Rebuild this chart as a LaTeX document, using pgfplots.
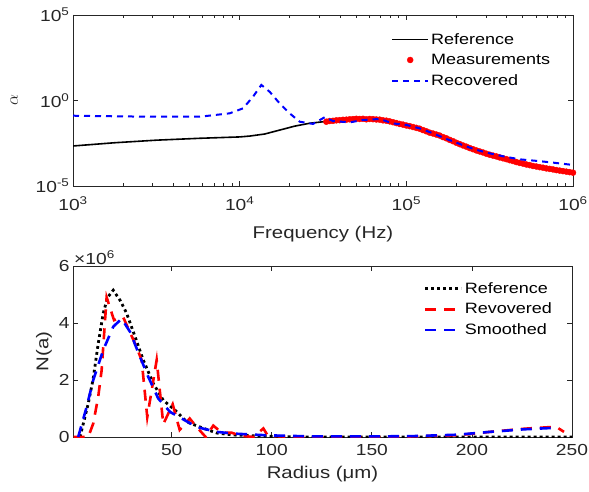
\documentclass[border=0pt]{standalone}
\usepackage{fontspec}
\setmainfont[FakeStretch=1.2]{Liberation Sans}
\usepackage{pgfplots}
\usepackage{pgfplotstable}
\pgfplotsset{compat=1.18}
\definecolor{axgray}{rgb}{0.15,0.15,0.15}

% top panel, columns: log10(f), log10(alpha)
\pgfplotstableread{
lf la
3.00 -2.66
3.25 -2.47
3.50 -2.32
3.76 -2.21
4.00 -2.13
4.06 -2.08
4.15 -1.96
4.24 -1.73
4.33 -1.50
4.42 -1.33
4.54 -1.20
4.72 -1.08
4.84 -1.12
4.96 -1.37
5.08 -1.65
5.20 -2.05
5.32 -2.55
5.50 -3.17
5.68 -3.65
5.86 -4.00
6.00 -4.22
}\refA

\pgfplotstableread{
lf la
4.52 -1.24
4.54 -1.20
4.56 -1.19
4.58 -1.16
4.60 -1.15
4.62 -1.13
4.64 -1.12
4.66 -1.10
4.68 -1.09
4.70 -1.07
4.72 -1.08
4.74 -1.07
4.76 -1.10
4.78 -1.08
4.80 -1.09
4.82 -1.11
4.84 -1.12
4.86 -1.16
4.88 -1.18
4.90 -1.22
4.92 -1.27
4.94 -1.32
4.96 -1.37
4.98 -1.41
5.00 -1.46
5.02 -1.50
5.04 -1.55
5.06 -1.60
5.08 -1.65
5.10 -1.73
5.12 -1.80
5.14 -1.88
5.16 -1.93
5.18 -1.99
5.20 -2.05
5.22 -2.14
5.24 -2.21
5.26 -2.30
5.28 -2.38
5.30 -2.47
5.32 -2.55
5.34 -2.63
5.36 -2.70
5.38 -2.78
5.40 -2.85
5.42 -2.92
5.44 -2.98
5.46 -3.04
5.48 -3.11
5.50 -3.17
5.52 -3.22
5.54 -3.27
5.56 -3.33
5.58 -3.38
5.60 -3.43
5.62 -3.49
5.64 -3.54
5.66 -3.60
5.68 -3.65
5.70 -3.69
5.72 -3.74
5.74 -3.78
5.76 -3.83
5.78 -3.86
5.80 -3.90
5.82 -3.93
5.84 -3.97
5.86 -4.00
5.88 -4.03
5.90 -4.07
5.92 -4.10
5.94 -4.13
5.96 -4.16
5.98 -4.19
6.00 -4.22
}\meas

\pgfplotstableread{
lf la
3.00 -0.89
3.30 -0.93
3.50 -0.95
3.76 -0.95
3.94 -0.75
4.02 -0.46
4.08 0.22
4.13 0.91
4.18 0.51
4.24 -0.17
4.30 -0.75
4.36 -1.24
4.44 -1.37
4.51 -0.98
4.56 -1.20
4.66 -1.28
4.74 -1.14
4.84 -1.08
4.92 -1.34
5.00 -1.43
5.08 -1.63
5.16 -1.92
5.23 -2.21
5.32 -2.54
5.41 -2.86
5.50 -3.09
5.59 -3.28
5.68 -3.44
5.77 -3.52
5.86 -3.61
6.00 -3.77
}\recA

% bottom panel, N(a) in units of 1e6
\pgfplotstableread{
r n
4.2 0
8.3 1.17
10.8 2.05
13.3 3.28
15.8 4.34
18.0 4.90
20.8 5.15
24.2 4.80
27.5 4.34
31.7 3.52
35.8 2.70
40.8 1.88
45.8 1.29
51.7 0.94
57.5 0.53
64.2 0.35
72.5 0.14
80.8 0.07
100 0.02
120 0
250 0
}\refB

\pgfplotstableread{
r n
1 0
8.3 0
10.8 0.47
13.3 1.41
15 2.34
17.5 4.90
21.2 4.10
25.8 4.20
31.7 3.28
35 2.70
37.8 0.70
42.5 2.70
45.8 0.45
50.5 1.15
54 0.25
59 0.65
62.5 0.35
67 0
70.8 0.40
75 0.15
80 0.15
84 0.05
90.8 0
95.8 0.30
98 0.05
110 0
150 0
170 0.02
192.5 0.06
209 0.18
226 0.29
242 0.36
246 0.18
}\recB

\pgfplotstableread{
r n
3.3 0
7.5 1.05
10.8 2.00
15.8 3.05
20.8 3.87
25 4.15
29.2 3.69
34.2 2.81
38.3 2.11
43.3 1.35
49.2 0.88
55 0.65
62.5 0.35
72.5 0.18
80.8 0.12
97.5 0.06
120 0.02
150 0.02
170 0.03
192.5 0.08
209 0.18
226 0.27
241 0.32
}\smB

\pgfplotsset{
  mystyle/.style={
    scale only axis,
    clip mode=individual,
    axis line style={axgray, line width=0.8pt},
    tick style={axgray, line width=0.7pt},
    tick align=inside,
    major tick length=5pt,
    minor tick length=3pt,
    /pgf/number format/assume math mode=true,
    ticklabel style={font=\fontsize{16}{18}\selectfont, text=axgray},
    label style={font=\fontsize{17}{20}\selectfont, text=axgray},
    legend cell align=left,
    legend image code/.code={\draw[mark repeat=2,mark phase=2,##1] plot coordinates {(0pt,0pt) (18pt,0pt) (36pt,0pt)};},
  }
}

\begin{document}
\begin{tikzpicture}[x=1pt,y=1pt]
\useasboundingbox (0,0) rectangle (589,491);
\begin{axis}[mystyle,
  at={(73pt,305pt)}, anchor=south west,
  width=500pt, height=171pt,
  xmode=log, ymode=log,
  xmin=1e3, xmax=1e6, ymin=1e-5, ymax=1e5,
  xtick={1e3,1e4,1e5,1e6},
  xticklabels={10\textsuperscript{3},10\textsuperscript{4},10\textsuperscript{5},10\textsuperscript{6}},
  ytick={1e-5,1,1e5},
  yticklabels={10\textsuperscript{-5},10\textsuperscript{0},10\textsuperscript{5}},
  yminorticks=false,
  xticklabel style={yshift=-7pt},
  xlabel={Frequency (Hz)},
  ylabel={$\alpha$},
  xlabel style={yshift=-9pt},
  ylabel style={yshift=11pt},
  legend style={draw=none, fill=none, at={(0.63,0.918)}, anchor=north west,
    font=\fontsize{15}{18}\selectfont, row sep=4.5pt},
]
\addplot[black, line width=1.6pt] table[x expr=10^\thisrow{lf}, y expr=10^\thisrow{la}] {\refA};
\addlegendentry{Reference}
\addplot[only marks, red, mark=*, mark size=3pt] table[x expr=10^\thisrow{lf}, y expr=10^\thisrow{la}] {\meas};
\addlegendentry{Measurements}
\addplot[blue, line width=2pt, dash pattern=on 6pt off 5pt] table[x expr=10^\thisrow{lf}, y expr=10^\thisrow{la}] {\recA};
\addlegendentry{Recovered}
\end{axis}

\begin{axis}[mystyle,
  at={(73pt,54pt)}, anchor=south west,
  width=499pt, height=171pt,
  xmin=0.7, xmax=250, ymin=0, ymax=6,
  xtick={50,100,150,200,250},
  ytick={0,2,4,6},
  xticklabel style={yshift=-4pt},
  xlabel={Radius (μm)},
  ylabel={N(a)},
  xlabel style={yshift=-3pt},
  legend style={draw=none, fill=none, at={(0.697,0.93)}, anchor=north west,
    font=\fontsize{15}{18}\selectfont, row sep=4.5pt},
]
\addplot[black, line width=2.8pt, dash pattern=on 2.8pt off 3.2pt] table[x=r, y=n] {\refB};
\addlegendentry{Reference}
\addplot[red, line width=2.6pt, dash pattern=on 11pt off 8pt] table[x=r, y=n] {\recB};
\addlegendentry{Revovered}
\addplot[blue, line width=2.6pt, dash pattern=on 11pt off 8pt] table[x=r, y=n] {\smB};
\addlegendentry{Smoothed}
\node[anchor=south west, inner sep=1pt, font=\fontsize{16}{18}\selectfont, text=axgray] at (rel axis cs:0,1) {\texttimes10\textsuperscript{6}};
\end{axis}
\end{tikzpicture}
\end{document}
